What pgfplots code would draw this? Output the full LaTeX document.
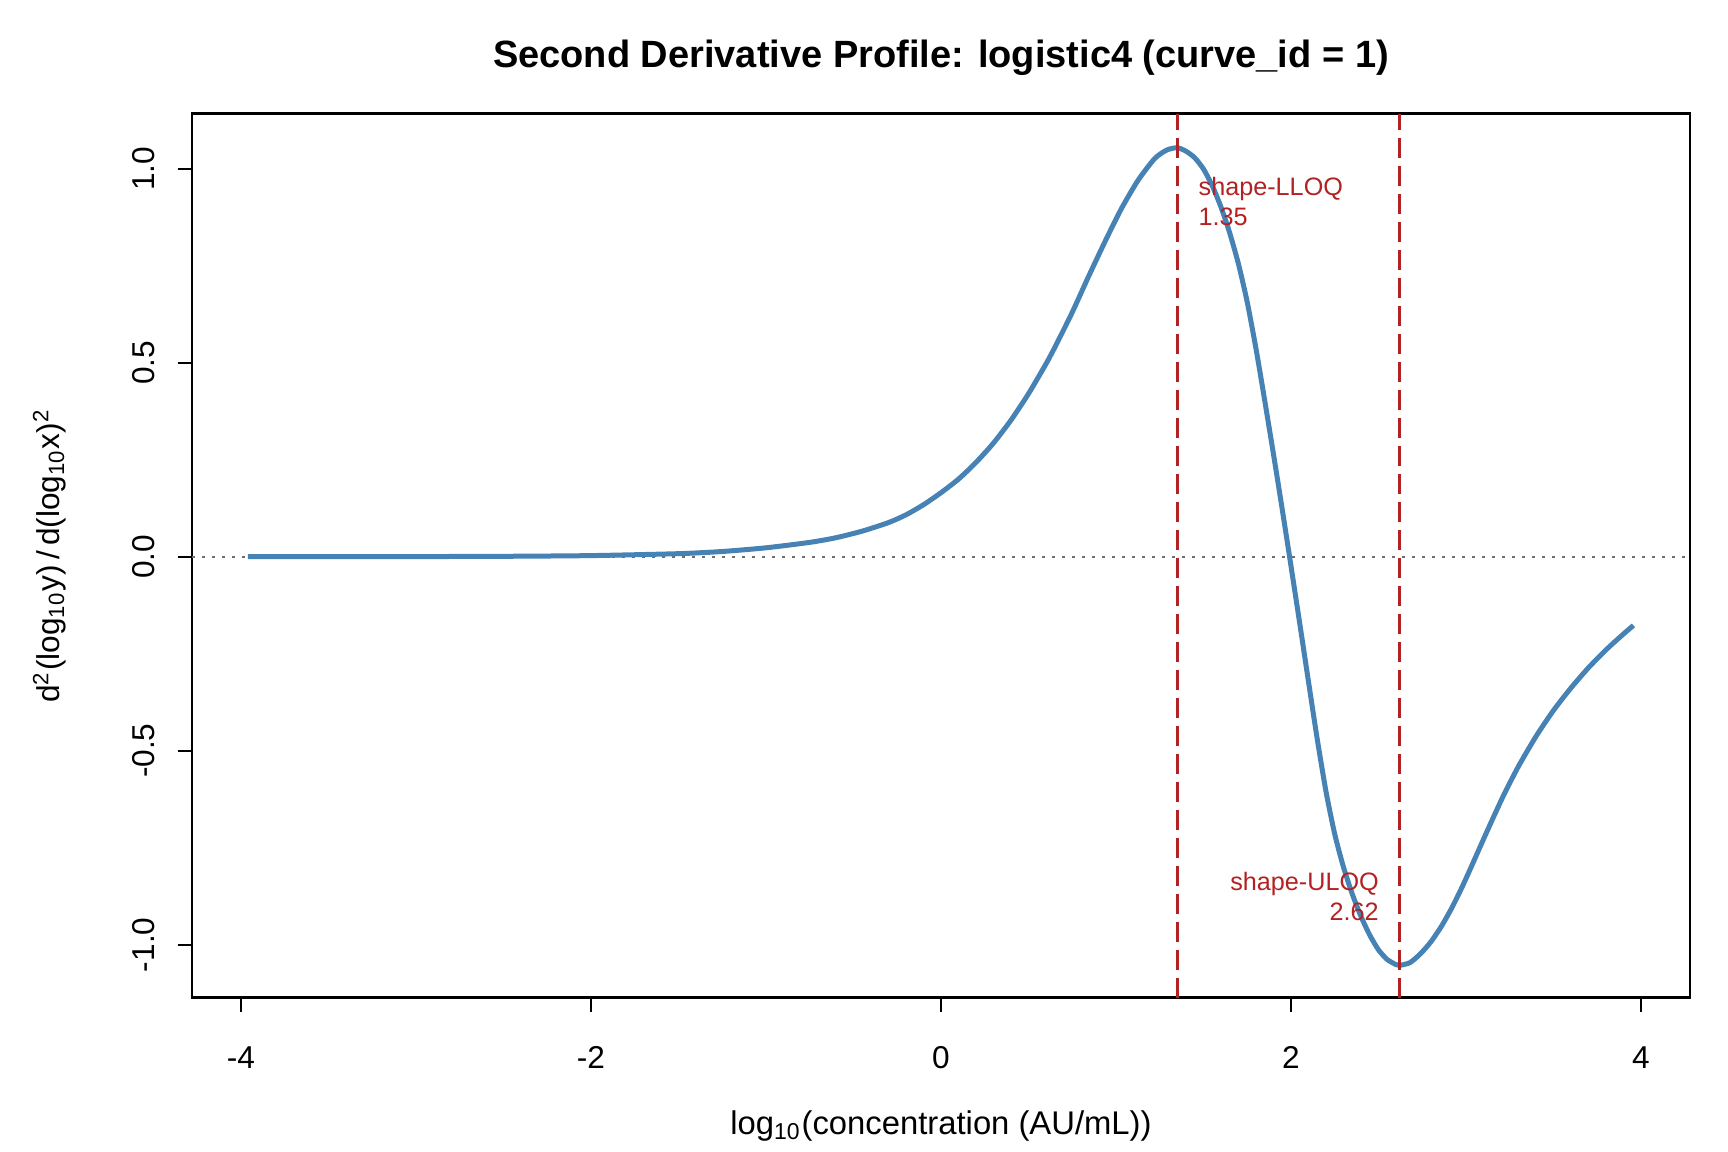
\documentclass[border=0pt]{standalone}
\usepackage{fontspec}
\setmainfont{Liberation Sans}
\usepackage{pgfplots}
\pgfplotsset{compat=1.18}
\definecolor{steelblue}{RGB}{70,130,180}
\definecolor{firebrick}{RGB}{178,34,34}
\definecolor{zerogrey}{RGB}{110,110,110}
\begin{document}
\begin{tikzpicture}
\begin{axis}[
  at={(0,0)}, anchor=south west,
  scale only axis, width=374.5pt, height=221pt,
  xmin=-4.28, xmax=4.28, ymin=-1.136, ymax=1.142,
  axis line style={line width=0.6pt},
  xtick={-4,-2,0,2,4}, ytick={-1,-0.5,0,0.5,1},
  tick pos=left, tick align=outside, major tick length=3.6pt,
  tick style={line width=0.5pt, black},
  /pgf/number format/assume math mode=true,
  xticklabel style={anchor=center, yshift=-11.4pt, font=\fontsize{7.9}{9.5}\selectfont},
  yticklabel style={rotate=90, anchor=center, yshift=8.6pt, font=\fontsize{7.9}{9.5}\selectfont,
    /pgf/number format/.cd, fixed, fixed zerofill, precision=1},
  title={Second Derivative Profile: logistic4 (curve\_id = 1)},
  title style={at={(axis description cs:0.5,1.0355)}, anchor=center, font=\bfseries\fontsize{9.5}{11}\selectfont},
  xlabel={log\textsubscript{10}(concentration (AU/mL))},
  xlabel style={at={(axis description cs:0.5,-0.1455)}, anchor=center, font=\fontsize{8.2}{9.8}\selectfont},
  ylabel={d\textsuperscript{2}(log\textsubscript{10}y)\,/\,d(log\textsubscript{10}x)\textsuperscript{2}},
  ylabel style={at={(axis description cs:-0.095,0.5)}, anchor=center, rotate=0, font=\fontsize{7.9}{9.5}\selectfont},
  clip=true,
]
\addplot[zerogrey, line width=0.5pt, dash pattern=on 0.8pt off 1.7pt] coordinates {(-4.28,0) (4.28,0)};
\addplot[steelblue, line width=1.25pt, smooth, tension=0.4] coordinates {
(-3.96,0.0001) (-3.5,0.0002) (-3.0,0.0004) (-2.5,0.0011) (-2.0,0.0029) (-1.5,0.0079)
(-1.25,0.0135) (-1.0,0.023) (-0.75,0.037) (-0.6,0.049) (-0.45,0.066) (-0.3,0.088)
(-0.2,0.108) (-0.1,0.134) (0.0,0.165) (0.1,0.200) (0.2,0.243) (0.3,0.293)
(0.4,0.352) (0.5,0.420) (0.6,0.497) (0.652,0.541) (0.747,0.627) (0.842,0.721) (0.936,0.811)
(1.031,0.897) (1.126,0.970) (1.221,1.026) (1.29,1.048) (1.35,1.054)
(1.40,1.045) (1.45,1.028) (1.50,0.999) (1.55,0.956) (1.60,0.901) (1.65,0.834)
(1.70,0.754) (1.75,0.656) (1.80,0.536) (1.85,0.402) (1.90,0.264) (1.95,0.122)
(2.00,-0.024) (2.05,-0.172) (2.10,-0.322) (2.15,-0.470) (2.20,-0.605) (2.25,-0.715)
(2.30,-0.800) (2.35,-0.869) (2.40,-0.927) (2.45,-0.975) (2.50,-1.013) (2.55,-1.038)
(2.60,-1.051) (2.62,-1.053)
(2.68,-1.046) (2.74,-1.023) (2.80,-0.992) (2.86,-0.952) (2.92,-0.904) (2.98,-0.849)
(3.04,-0.789) (3.10,-0.728) (3.16,-0.668) (3.22,-0.610) (3.30,-0.540) (3.40,-0.463)
(3.50,-0.396) (3.60,-0.338) (3.70,-0.286) (3.80,-0.240) (3.90,-0.199) (3.957,-0.177)
};
\addplot[firebrick, line width=0.75pt, dash pattern=on 5pt off 2pt] coordinates {(1.35,-1.136) (1.35,1.142)};
\addplot[firebrick, line width=0.75pt, dash pattern=on 5pt off 2pt] coordinates {(2.62,-1.136) (2.62,1.142)};
\node[anchor=west, align=left, text=firebrick, inner sep=0pt, font=\fontsize{6.3}{7.5}\selectfont] at (axis cs:1.468,0.9155) {shape-LLOQ\\1.35};
\node[anchor=east, align=right, text=firebrick, inner sep=0pt, font=\fontsize{6.3}{7.5}\selectfont] at (axis cs:2.506,-0.8765) {shape-ULOQ\\2.62};
\end{axis}
\pgfresetboundingbox
\useasboundingbox (-48pt,-38.6pt) rectangle (384pt,249.4pt);
\end{tikzpicture}
\end{document}
